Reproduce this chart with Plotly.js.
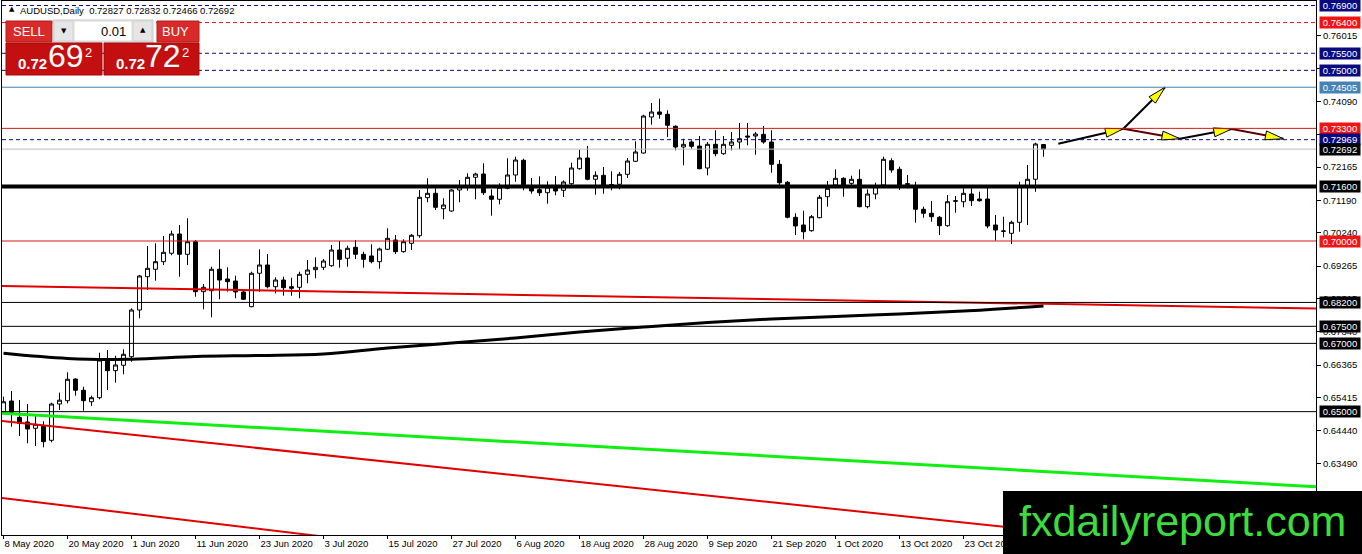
<!DOCTYPE html>
<html><head><meta charset="utf-8">
<script src="https://cdn.plot.ly/plotly-3.0.1.min.js"></script>
<style>html,body{margin:0;padding:0;background:#fff;overflow:hidden}#chart{width:1362px;height:554px}</style>
</head><body><div id="chart"></div>
<script>
// ---------- DATA ----------
const openP = [
0.65000,0.65312,0.64834,0.64697,0.64512,0.64580,0.64160,0.65224,0.65321,0.65956,
0.65626,0.65291,0.65409,0.66543,0.66201,0.66358,0.66610,0.67978,0.68954,0.69171,
0.69394,0.69640,0.70205,0.69610,0.69980,0.68515,0.68544,0.69171,0.68887,0.68828,
0.68506,0.68075,0.69054,0.69297,0.68661,0.68857,0.68661,0.68643,0.69024,0.69160,
0.69229,0.69276,0.69736,0.69493,0.69815,0.69610,0.69561,0.69394,0.69757,0.70029,
0.69688,0.69933,0.70155,0.71269,0.71397,0.70946,0.70879,0.71494,0.71591,0.71866,
0.71963,0.71318,0.71222,0.71544,0.71934,0.72364,0.71562,0.71503,0.71415,0.71553,
0.71485,0.71679,0.72118,0.72432,0.71808,0.71925,0.71632,0.71661,0.71954,0.72335,
0.72578,0.73633,0.73780,0.73712,0.73361,0.72754,0.72901,0.72783,0.72139,0.72833,
0.72558,0.72804,0.72901,0.73076,0.73076,0.73125,0.72901,0.72247,0.71720,0.70694,
0.70469,0.70302,0.70683,0.71298,0.71641,0.71837,0.71690,0.71808,0.71005,0.71377,
0.71641,0.72353,0.72101,0.71680,0.71591,0.70929,0.70812,0.70694,0.70448,0.71162,
0.71151,0.71377,0.71230,0.71230,0.70469,0.70283,0.70225,0.70548,0.71620,0.71808,
0.72827];
const highP = [
0.65440,0.65605,0.65341,0.65224,0.64901,0.64717,0.65263,0.65556,0.66153,0.65977,
0.65731,0.65468,0.66728,0.66806,0.66640,0.66827,0.68028,0.69004,0.69853,0.69933,
0.70146,0.70302,0.70469,0.70665,0.70029,0.68740,0.69247,0.69757,0.69229,0.68983,
0.68564,0.69101,0.69757,0.69619,0.68936,0.68954,0.68925,0.69101,0.69443,0.69522,
0.69473,0.69883,0.70000,0.69863,0.70029,0.69686,0.69903,0.69805,0.70372,0.70176,
0.70050,0.70205,0.71494,0.71837,0.71544,0.71251,0.71515,0.71787,0.71984,0.72001,
0.72277,0.71515,0.71691,0.72423,0.72470,0.72411,0.71846,0.71894,0.71749,0.71904,
0.71778,0.72294,0.72675,0.72783,0.72042,0.72168,0.72042,0.72022,0.72432,0.72921,
0.73700,0.74043,0.74169,0.73829,0.73390,0.72997,0.72950,0.73076,0.72901,0.73244,
0.73076,0.73194,0.73457,0.73457,0.73194,0.73369,0.73244,0.72373,0.71758,0.70812,
0.70888,0.70762,0.71348,0.71758,0.72101,0.71866,0.71913,0.72101,0.71515,0.71708,
0.72470,0.72423,0.72177,0.71934,0.71737,0.71005,0.71172,0.70733,0.71348,0.71318,
0.71544,0.71544,0.71444,0.71573,0.70762,0.70712,0.70595,0.71737,0.72227,0.72880,
0.72832];
const lowP = [
0.64970,0.64557,0.64286,0.64073,0.63993,0.63955,0.64102,0.65048,0.65244,0.65468,
0.65028,0.65166,0.65362,0.65634,0.65849,0.66095,0.66464,0.67735,0.68564,0.68837,
0.69297,0.69581,0.68954,0.69297,0.68368,0.67999,0.67764,0.68292,0.68515,0.68321,
0.68271,0.68057,0.68515,0.68614,0.68468,0.68397,0.68397,0.68321,0.68761,0.68907,
0.69150,0.69247,0.69218,0.69247,0.69473,0.69218,0.69346,0.69189,0.69736,0.69619,
0.69657,0.69736,0.70097,0.71134,0.70908,0.70636,0.70858,0.71134,0.71474,0.71222,
0.71348,0.70741,0.71075,0.71515,0.71737,0.71485,0.71386,0.71318,0.71093,0.71339,
0.71289,0.71632,0.72089,0.71778,0.71357,0.71386,0.71485,0.71515,0.71846,0.72315,
0.72558,0.73408,0.73583,0.73047,0.72657,0.72218,0.72704,0.72101,0.71925,0.72481,
0.72528,0.72657,0.72687,0.72804,0.72528,0.72851,0.72001,0.71544,0.70665,0.70176,
0.70050,0.70272,0.70665,0.71005,0.71544,0.71298,0.71620,0.70987,0.70958,0.71222,
0.71611,0.72001,0.71494,0.71544,0.70536,0.70683,0.70565,0.70176,0.70419,0.70829,
0.70987,0.71025,0.71151,0.70372,0.70009,0.70108,0.69912,0.70272,0.70469,0.71444,
0.72466];
const closeP = [
0.65290,0.64981,0.64658,0.64491,0.64629,0.64120,0.65224,0.65336,0.65948,0.65626,
0.65321,0.65409,0.66513,0.66201,0.66367,0.66680,0.67978,0.68975,0.69200,0.69394,
0.69669,0.70205,0.69610,0.69980,0.68515,0.68643,0.69171,0.68857,0.68808,0.68506,
0.68292,0.69054,0.69297,0.68661,0.68857,0.68632,0.68614,0.69024,0.69150,0.69229,
0.69414,0.69736,0.69463,0.69786,0.69610,0.69463,0.69394,0.69766,0.70079,0.69688,
0.69980,0.70167,0.71280,0.71397,0.70987,0.71055,0.71494,0.71591,0.71866,0.71963,
0.71415,0.71222,0.71573,0.71934,0.72373,0.71650,0.71465,0.71415,0.71582,0.71465,
0.71729,0.72139,0.72432,0.71808,0.71925,0.71632,0.71650,0.71954,0.72344,0.72608,
0.73662,0.73780,0.73712,0.73390,0.72754,0.72833,0.72774,0.72118,0.72833,0.72558,
0.72833,0.72901,0.72997,0.73047,0.73135,0.72901,0.72247,0.71708,0.70694,0.70440,
0.70272,0.70712,0.71280,0.71544,0.71837,0.71641,0.71808,0.71005,0.71377,0.71591,
0.72394,0.72080,0.71641,0.71660,0.70929,0.70812,0.70712,0.70448,0.71151,0.71180,
0.71397,0.71181,0.71181,0.70439,0.70322,0.70293,0.70548,0.71620,0.71808,0.72842,
0.72692];

// x tick labels (dates) and y tick values
const xTickDates = ['2020-05-08','2020-05-20','2020-06-01','2020-06-11','2020-06-23','2020-07-03','2020-07-15','2020-07-27',
                    '2020-08-06','2020-08-18','2020-08-28','2020-09-09','2020-09-21','2020-10-01','2020-10-13','2020-10-23'];
const xTickText = ['8 May 2020','20 May 2020','1 Jun 2020','11 Jun 2020','23 Jun 2020','3 Jul 2020','15 Jul 2020','27 Jul 2020',
                   '6 Aug 2020','18 Aug 2020','28 Aug 2020','9 Sep 2020','21 Sep 2020','1 Oct 2020','13 Oct 2020','23 Oct 2020'];
const yTicks = [0.76015,0.75065,0.74090,0.73115,0.72165,0.71190,0.70240,0.69265,0.68315,0.67340,0.66365,0.65415,0.64440,0.63490,0.62515];

// horizontal levels
const levels = [0.76900,0.76400,0.75500,0.75000,0.74505,0.73300,0.72969,0.72692,0.71600,0.70000,0.68200,0.67500,0.67000,0.65000];

// moving average (sampled at bar indices)
const maIdx = [0,8,16,24,32,40,48,56,64,72,80,88,96,104,112,120,130];
const maVal = [0.66708,0.66557,0.66534,0.66616,0.66645,0.66689,0.66865,0.67011,0.67158,0.67334,0.67480,0.67612,0.67715,0.67788,0.67861,0.67949,0.68096];

// trend lines (bar index, price)
const trendRedTopX = [-0.19,164.06], trendRedTopY = [0.68682,0.68022];
const trendGreenX = [-0.19,164.06], trendGreenY = [0.64952,0.62801];
const trendRedMidX = [-0.19,164.06], trendRedMidY = [0.64726,0.60659];
const trendRedLowX = [-0.19,49.56], trendRedLowY = [0.62470,0.61070];

// projected path (bar index, price)
const projX = [131.85,139.98,145.19,147.06,153.53,159.98];
const projY = [0.72851,0.73290,0.74503,0.72997,0.73282,0.72997];
const projSeg = [[0,1],[1,2],[1,3],[3,4],[4,5]];

// header
const headerText = 'AUDUSD,Daily  0.72827 0.72832 0.72466 0.72692';

// ---------- BUILD ----------
const dates = [];
(function(){ const d = new Date(Date.UTC(2020,4,8));
  while (dates.length < openP.length) { const wd = d.getUTCDay();
    if (wd > 0 && wd < 6) dates.push(d.toISOString().slice(0,10));
    d.setUTCDate(d.getUTCDate()+1); } })();
const idx = dates.map((_, i) => i);
const tickIdx = xTickDates.map(s => dates.indexOf(s));

const FONT = 'Liberation Sans, Arial, sans-serif';
const NARROW = 'Liberation Sans Narrow, Liberation Sans, Arial, sans-serif';
const xr = [-0.1875, 164.0625];
const yr = [0.613859, 0.770319];
const W = 1362, H = 554, PL = 2, PT = 1, PW = 1314, PH = 534;
const kx = PW/(xr[1]-xr[0]), ky = PH/(yr[1]-yr[0]);
const px = x => (x-PL)/PW, py = y => 1-(y-PT)/PH;

const NAVY = '#0a0a80', RED = '#f01414', LRED = '#d41818', STEEL = '#4682b4';
const levelStyle = {
  0.769:{c:NAVY,w:1,d:'4px,3px',bg:NAVY}, 0.764:{c:LRED,w:1,d:'4px,3px',bg:RED},
  0.755:{c:NAVY,w:1,d:'4px,3px',bg:NAVY}, 0.75:{c:NAVY,w:1,d:'4px,3px',bg:NAVY},
  0.74505:{c:STEEL,w:1,d:'solid',bg:STEEL}, 0.733:{c:LRED,w:1,d:'solid',bg:RED},
  0.72969:{c:NAVY,w:1,d:'4px,3px',bg:NAVY}, 0.72692:{c:'#bdbdbd',w:1,d:'solid',bg:'#000'},
  0.716:{c:'#000',w:4,d:'solid',bg:'#000'}, 0.7:{c:LRED,w:1,d:'solid',bg:RED},
  0.682:{c:'#000',w:1,d:'solid',bg:'#000'}, 0.675:{c:'#000',w:1,d:'solid',bg:'#000'},
  0.67:{c:'#000',w:1,d:'solid',bg:'#000'}, 0.65:{c:'#000',w:1,d:'solid',bg:'#000'}
};

const traces = [];
traces.push({type:'candlestick', x:idx, open:openP, high:highP, low:lowP, close:closeP,
  increasing:{line:{color:'#000',width:1}, fillcolor:'#fff'},
  decreasing:{line:{color:'#000',width:1}, fillcolor:'#000'},
  whiskerwidth:0, hoverinfo:'skip'});
traces.push({type:'scatter', mode:'lines', x:maIdx, y:maVal, line:{color:'#000',width:3,shape:'spline'}, hoverinfo:'skip'});
traces.push({type:'scatter', mode:'lines', x:trendRedTopX, y:trendRedTopY, line:{color:'#e00000',width:2}, hoverinfo:'skip'});
traces.push({type:'scatter', mode:'lines', x:trendGreenX, y:trendGreenY, line:{color:'#11ee11',width:3}, hoverinfo:'skip'});
traces.push({type:'scatter', mode:'lines', x:trendRedMidX, y:trendRedMidY, line:{color:'#e00000',width:2}, hoverinfo:'skip'});
traces.push({type:'scatter', mode:'lines', x:trendRedLowX, y:trendRedLowY, line:{color:'#e00000',width:2}, hoverinfo:'skip'});

const segColors = ['#000','#000','#5a0000','#000','#5a0000'];
function head(x0,y0,x1,y1){
  const dx=(x1-x0)*kx, dy=-(y1-y0)*ky, L=Math.hypot(dx,dy), ux=dx/L, uy=dy/L;
  const len=18, hw=4.5, bx=-ux*len, by=-uy*len, nx=-uy*hw, ny=ux*hw;
  const pts=[[bx+nx,by+ny],[0,0],[bx-nx,by-ny],[bx+nx,by+ny]];
  return {x:pts.map(p=>x1+p[0]/kx), y:pts.map(p=>y1-p[1]/ky)};
}
projSeg.forEach((s,i)=>{
  const a=s[0], b=s[1];
  traces.push({type:'scatter', mode:'lines', x:[projX[a],projX[b]], y:[projY[a],projY[b]], line:{color:segColors[i],width:2}, hoverinfo:'skip'});
  const h=head(projX[a],projY[a],projX[b],projY[b]);
  traces.push({type:'scatter', mode:'lines', x:h.x, y:h.y, fill:'toself', fillcolor:'#ffff00', line:{color:'#000',width:1}, hoverinfo:'skip'});
});

const shapes = [];
levels.forEach(v=>{ const st=levelStyle[v];
  shapes.push({type:'line', xref:'paper', x0:0, x1:1, yref:'y', y0:v, y1:v, layer:'above', line:{color:st.c, width:st.w, dash:st.d}}); });
function rect(x0,y0,x1,y1,fill,lc){ shapes.push({type:'rect', xref:'paper', yref:'paper', x0:px(x0), x1:px(x1), y0:py(y1), y1:py(y0), layer:'above', fillcolor:fill, line:{color:lc||fill, width:lc?1:0}}); }
// trade panel
rect(6,21,52,42,'#d92a2a','#b51a1a');
rect(53,20,153,42,'#f2f2f2','#c4c4c4');
rect(54,21,73,41,'#e6e6e6','#d0d0d0');
rect(74,21,132,41,'#ffffff','#d8d8d8');
rect(133,21,152,41,'#e6e6e6','#d0d0d0');
rect(157,21,199,42,'#d92a2a','#b51a1a');
rect(6,43,102,75,'#c30f0f','#a80808');
rect(104,43,199,75,'#c30f0f','#a80808');
// watermark
rect(1003,491,1362,554,'#000000');

const annotations = [];
function ann(x,y,text,o){ o=o||{}; annotations.push({xref:'paper', yref:'paper', x:px(x), y:py(y), text:text, showarrow:false,
  xanchor:o.xa||'left', yanchor:o.ya||'middle', font:{family:o.f||FONT, size:o.s||9.5, color:o.c||'#000'}}); }
ann(6.5,9.5,'▲',{s:7,f:'DejaVu Sans'});
ann(18,10,headerText,{s:9.5});
ann(29,31,'SELL',{xa:'center',s:13,c:'#fff',f:NARROW});
ann(128,31,'0.01',{xa:'right',s:13,f:NARROW});
ann(63.5,31,'▼',{xa:'center',s:7,f:'DejaVu Sans'});
ann(142.5,30,'▲',{xa:'center',s:7,f:'DejaVu Sans'});
ann(175,31,'BUY',{xa:'center',s:13,c:'#fff',f:NARROW});
ann(32,64,'<b>0.72</b>',{xa:'center',s:15,c:'#fff',f:NARROW});
ann(65.5,56,'69',{xa:'center',s:32,c:'#fff'});
ann(88,52,'2',{xa:'center',s:13,c:'#fff'});
ann(130,64,'<b>0.72</b>',{xa:'center',s:15,c:'#fff',f:NARROW});
ann(162.5,56,'72',{xa:'center',s:32,c:'#fff'});
ann(185,52,'2',{xa:'center',s:13,c:'#fff'});
// level labels
levels.forEach(v=>{ const st=levelStyle[v];
  annotations.push({xref:'paper', yref:'y', x:px(1319), y:v, xanchor:'left', yanchor:'middle', text:v.toFixed(5), showarrow:false,
    bgcolor:st.bg, width:40, height:11, borderpad:0, align:'center', font:{family:FONT, size:9.5, color:'#fff'}}); });
// watermark text
ann(1182,521,'fxdailyreport.com',{xa:'center',s:43,c:'#3ddc3d'});

const layout = {
  width:W, height:H, margin:{l:PL, r:W-PL-PW, t:PT, b:H-PT-PH, pad:0},
  paper_bgcolor:'#fff', plot_bgcolor:'#fff', showlegend:false, hovermode:false,
  xaxis:{range:xr, type:'linear', showgrid:false, zeroline:false, showline:true, linecolor:'#000', linewidth:1, mirror:true,
    ticks:'outside', ticklen:3, tickcolor:'#000', tickvals:tickIdx, ticktext:xTickText, ticklabelposition:'outside right',
    tickfont:{family:FONT, size:9.5, color:'#000'}, rangeslider:{visible:false}, fixedrange:true},
  yaxis:{range:yr, side:'right', showgrid:false, zeroline:false, showline:true, linecolor:'#000', linewidth:1, mirror:true,
    ticks:'outside', ticklen:4, tickcolor:'#000', tickvals:yTicks, ticktext:yTicks.map(v=>v.toFixed(5)),
    tickfont:{family:FONT, size:9.5, color:'#000'}, fixedrange:true},
  shapes:shapes, annotations:annotations
};
Plotly.newPlot('chart', traces, layout, {staticPlot:true, displayModeBar:false});
</script></body></html>
